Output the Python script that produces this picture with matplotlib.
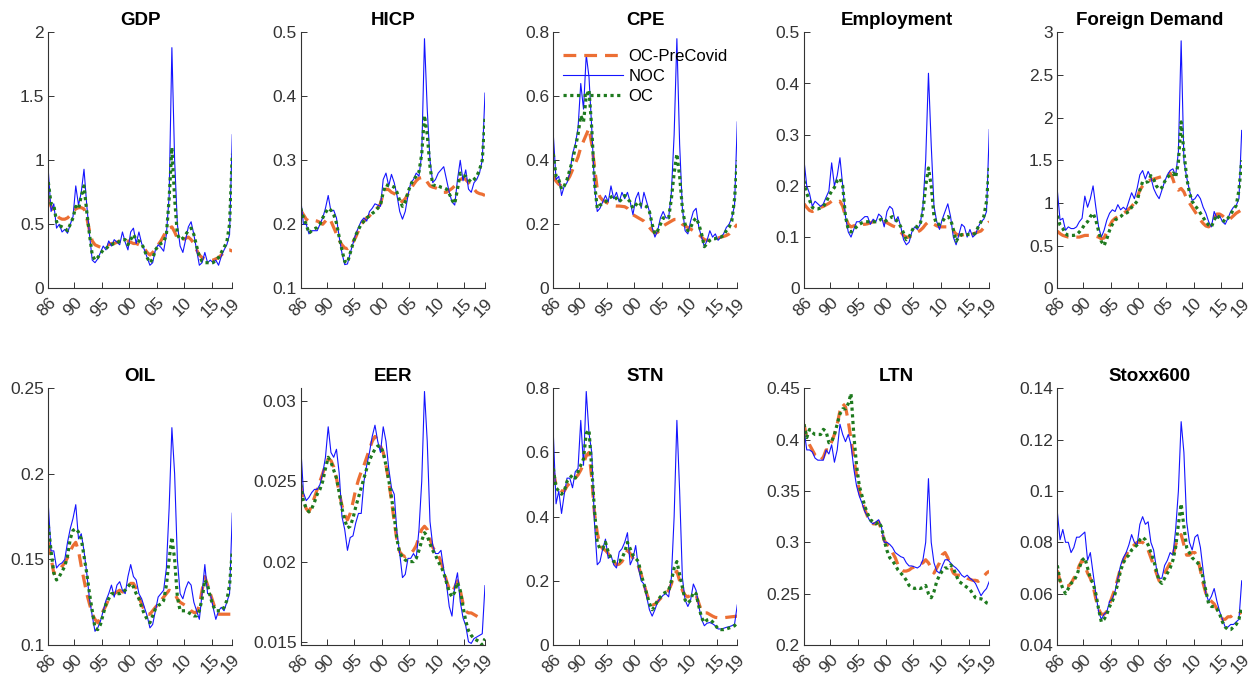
import numpy as np
import matplotlib
matplotlib.use('Agg')
import matplotlib.pyplot as plt
from matplotlib.ticker import FuncFormatter

plt.rcParams['font.family'] = ['Liberation Sans', 'DejaVu Sans']

# half-year grid, 1985Q2 .. 2018Q4
dates = np.arange(1985.25, 2019.0, 0.5)
tick_pos = [1985.25, 1990, 1995, 2000, 2005, 2010, 2015, 2018.75]
tick_lab = ['86', '90', '95', '00', '05', '10', '15', '19']

titles = ['GDP', 'HICP', 'CPE', 'Employment', 'Foreign Demand',
          'OIL', 'EER', 'STN', 'LTN', 'Stoxx600']

# ---- GDP
gdp_pre = [0.7, 0.64, 0.6, 0.57, 0.55, 0.54, 0.54, 0.55, 0.57, 0.6, 0.62, 0.63, 0.63, 0.62, 0.55, 0.45, 0.37,
           0.34, 0.33, 0.32, 0.33, 0.33, 0.34, 0.35, 0.35, 0.36, 0.37, 0.38, 0.38, 0.37, 0.36, 0.35, 0.35, 0.34,
           0.33, 0.31, 0.28, 0.26, 0.28, 0.31, 0.34, 0.37, 0.41, 0.45, 0.47, 0.48, 0.44, 0.39, 0.38, 0.38, 0.39,
           0.4, 0.38, 0.35, 0.3, 0.26, 0.24, 0.23, 0.22, 0.22, 0.22, 0.23, 0.24, 0.26, 0.28, 0.3, 0.3, 0.29]
gdp_noc = [0.92, 0.6, 0.66, 0.47, 0.5, 0.44, 0.46, 0.43, 0.5, 0.56, 0.8, 0.65, 0.75, 0.93, 0.65, 0.42, 0.22,
           0.2, 0.23, 0.28, 0.33, 0.3, 0.37, 0.33, 0.38, 0.36, 0.34, 0.44, 0.36, 0.3, 0.44, 0.47, 0.35, 0.44,
           0.35, 0.3, 0.24, 0.18, 0.2, 0.3, 0.34, 0.32, 0.29, 0.42, 0.72, 1.88, 1.0, 0.5, 0.33, 0.28, 0.38, 0.48,
           0.52, 0.42, 0.3, 0.18, 0.2, 0.28, 0.2, 0.22, 0.2, 0.22, 0.18, 0.25, 0.3, 0.34, 0.42, 1.2]
gdp_oc = [0.83, 0.66, 0.65, 0.52, 0.49, 0.48, 0.47, 0.45, 0.5, 0.55, 0.64, 0.62, 0.72, 0.8, 0.6, 0.42, 0.26,
          0.22, 0.24, 0.27, 0.3, 0.31, 0.33, 0.34, 0.35, 0.35, 0.37, 0.38, 0.38, 0.34, 0.38, 0.42, 0.38, 0.37,
          0.35, 0.3, 0.24, 0.2, 0.23, 0.3, 0.33, 0.35, 0.36, 0.42, 0.7, 1.1, 0.7, 0.42, 0.38, 0.39, 0.42, 0.45,
          0.47, 0.42, 0.33, 0.25, 0.21, 0.2, 0.2, 0.2, 0.2, 0.22, 0.24, 0.28, 0.32, 0.36, 0.5, 1.05]

# ---- HICP
hicp_pre = [0.222, 0.215, 0.208, 0.205, 0.205, 0.206, 0.205, 0.203, 0.2, 0.205, 0.21, 0.205, 0.195, 0.185,
            0.175, 0.168, 0.163, 0.162, 0.165, 0.172, 0.18, 0.19, 0.2, 0.205, 0.21, 0.213, 0.218, 0.222, 0.226,
            0.232, 0.248, 0.255, 0.254, 0.25, 0.248, 0.244, 0.238, 0.235, 0.24, 0.247, 0.255, 0.262, 0.268,
            0.272, 0.273, 0.273, 0.266, 0.26, 0.258, 0.257, 0.255, 0.253, 0.25, 0.25, 0.253, 0.256, 0.26, 0.265,
            0.27, 0.272, 0.27, 0.265, 0.26, 0.255, 0.25, 0.248, 0.247, 0.245]
hicp_noc = [0.24, 0.2, 0.2, 0.185, 0.19, 0.19, 0.19, 0.2, 0.21, 0.225, 0.245, 0.22, 0.222, 0.21, 0.18, 0.155,
            0.137, 0.138, 0.155, 0.17, 0.185, 0.195, 0.205, 0.21, 0.205, 0.22, 0.225, 0.232, 0.23, 0.228, 0.27,
            0.28, 0.26, 0.278, 0.265, 0.245, 0.22, 0.208, 0.22, 0.245, 0.265, 0.27, 0.28, 0.275, 0.31, 0.49,
            0.38, 0.3, 0.265, 0.27, 0.28, 0.285, 0.29, 0.27, 0.25, 0.235, 0.23, 0.27, 0.3, 0.268, 0.285,
            0.255, 0.25, 0.265, 0.27, 0.28, 0.3, 0.405]
hicp_oc = [0.225, 0.21, 0.2, 0.186, 0.19, 0.193, 0.195, 0.2, 0.21, 0.218, 0.225, 0.222, 0.215, 0.202, 0.18,
           0.16, 0.142, 0.14, 0.155, 0.17, 0.183, 0.192, 0.2, 0.205, 0.21, 0.213, 0.217, 0.22, 0.225, 0.23, 0.25,
           0.262, 0.26, 0.26, 0.258, 0.25, 0.237, 0.228, 0.235, 0.25, 0.262, 0.27, 0.275, 0.282, 0.31, 0.37,
           0.34, 0.29, 0.262, 0.26, 0.26, 0.258, 0.257, 0.255, 0.248, 0.238, 0.232, 0.255, 0.28, 0.276, 0.275,
           0.27, 0.266, 0.27, 0.275, 0.285, 0.3, 0.365]

# ---- CPE
cpe_pre = [0.35, 0.335, 0.325, 0.32, 0.325, 0.335, 0.35, 0.37, 0.39, 0.41, 0.44, 0.46, 0.48, 0.5, 0.45, 0.38,
           0.31, 0.285, 0.275, 0.27, 0.265, 0.26, 0.258, 0.257, 0.257, 0.256, 0.255, 0.25, 0.24, 0.23, 0.225,
           0.22, 0.215, 0.21, 0.2, 0.19, 0.18, 0.172, 0.175, 0.185, 0.195, 0.2, 0.205, 0.21, 0.215, 0.215, 0.21,
           0.2, 0.195, 0.19, 0.185, 0.18, 0.175, 0.168, 0.16, 0.152, 0.15, 0.15, 0.152, 0.155, 0.157, 0.16,
           0.162, 0.165, 0.17, 0.18, 0.19, 0.2]
cpe_noc = [0.48, 0.34, 0.35, 0.29, 0.32, 0.33, 0.36, 0.42, 0.45, 0.5, 0.64, 0.56, 0.73, 0.66, 0.5, 0.32, 0.24,
           0.25, 0.27, 0.29, 0.27, 0.32, 0.28, 0.3, 0.27, 0.3, 0.28, 0.3, 0.27, 0.23, 0.28, 0.3, 0.25, 0.3, 0.27,
           0.24, 0.19, 0.16, 0.18, 0.22, 0.24, 0.22, 0.22, 0.3, 0.48, 0.78, 0.45, 0.25, 0.18, 0.17, 0.21, 0.24,
           0.25, 0.19, 0.16, 0.13, 0.15, 0.18, 0.16, 0.17, 0.15, 0.16, 0.17, 0.19, 0.2, 0.22, 0.26, 0.52]
cpe_oc = [0.42, 0.35, 0.34, 0.31, 0.32, 0.34, 0.37, 0.4, 0.44, 0.48, 0.54, 0.52, 0.6, 0.62, 0.5, 0.33, 0.25,
          0.26, 0.265, 0.27, 0.28, 0.285, 0.29, 0.28, 0.27, 0.28, 0.29, 0.28, 0.27, 0.25, 0.26, 0.27, 0.26,
          0.26, 0.255, 0.24, 0.2, 0.17, 0.18, 0.2, 0.22, 0.22, 0.22, 0.28, 0.36, 0.42, 0.35, 0.25, 0.2, 0.18,
          0.19, 0.21, 0.22, 0.2, 0.17, 0.13, 0.14, 0.15, 0.155, 0.155, 0.16, 0.16, 0.165, 0.18, 0.19, 0.21,
          0.28, 0.4]

# ---- Employment
emp_pre = [0.165, 0.158, 0.152, 0.15, 0.153, 0.155, 0.158, 0.16, 0.163, 0.166, 0.17, 0.168, 0.168, 0.17,
           0.16, 0.14, 0.125, 0.12, 0.122, 0.124, 0.125, 0.125, 0.125, 0.126, 0.128, 0.13, 0.13, 0.13, 0.13,
           0.13, 0.128, 0.125, 0.122, 0.12, 0.115, 0.11, 0.103, 0.1, 0.1, 0.103, 0.107, 0.11, 0.113, 0.118,
           0.125, 0.13, 0.128, 0.125, 0.122, 0.12, 0.12, 0.12, 0.12, 0.118, 0.112, 0.106, 0.104, 0.104, 0.105,
           0.105, 0.105, 0.106, 0.108, 0.11, 0.112, 0.118, 0.125, 0.13]
emp_noc = [0.25, 0.2, 0.185, 0.16, 0.17, 0.165, 0.16, 0.165, 0.178, 0.19, 0.245, 0.2, 0.22, 0.255, 0.2, 0.14,
           0.11, 0.1, 0.115, 0.13, 0.13, 0.135, 0.14, 0.14, 0.125, 0.135, 0.13, 0.145, 0.14, 0.12, 0.15, 0.16,
           0.155, 0.13, 0.14, 0.12, 0.095, 0.085, 0.09, 0.11, 0.12, 0.115, 0.125, 0.16, 0.25, 0.42, 0.28, 0.16,
           0.13, 0.115, 0.135, 0.15, 0.165, 0.14, 0.1, 0.085, 0.105, 0.125, 0.12, 0.1, 0.115, 0.1, 0.105, 0.12,
           0.13, 0.135, 0.15, 0.31]
emp_oc = [0.21, 0.185, 0.172, 0.158, 0.155, 0.155, 0.157, 0.16, 0.168, 0.18, 0.19, 0.197, 0.21, 0.215, 0.2,
          0.14, 0.115, 0.11, 0.115, 0.12, 0.125, 0.128, 0.13, 0.13, 0.13, 0.13, 0.13, 0.132, 0.135, 0.13, 0.133,
          0.137, 0.14, 0.135, 0.13, 0.12, 0.108, 0.095, 0.1, 0.112, 0.122, 0.12, 0.125, 0.15, 0.2, 0.235, 0.2,
          0.14, 0.125, 0.125, 0.13, 0.138, 0.14, 0.135, 0.115, 0.092, 0.1, 0.105, 0.105, 0.105, 0.105, 0.105,
          0.108, 0.12, 0.13, 0.14, 0.17, 0.24]

# ---- Foreign Demand
fd_pre = [0.67, 0.64, 0.62, 0.61, 0.6, 0.6, 0.6, 0.6, 0.6, 0.61, 0.62, 0.62, 0.62, 0.62, 0.61, 0.6, 0.58, 0.59,
          0.66, 0.73, 0.79, 0.82, 0.84, 0.86, 0.88, 0.9, 0.93, 0.96, 1.0, 1.06, 1.15, 1.2, 1.24, 1.26, 1.27,
          1.28, 1.29, 1.3, 1.31, 1.32, 1.33, 1.35, 1.28, 1.18, 1.15, 1.17, 1.13, 1.05, 1.0, 0.95, 0.9, 0.85, 0.8,
          0.76, 0.73, 0.72, 0.75, 0.82, 0.87, 0.87, 0.85, 0.82, 0.8, 0.82, 0.85, 0.88, 0.9, 0.92]
fd_noc = [1.15, 0.8, 0.82, 0.68, 0.72, 0.7, 0.7, 0.72, 0.78, 0.82, 1.08, 0.95, 1.05, 1.2, 0.95, 0.72, 0.6, 0.68,
          0.8, 0.88, 0.92, 0.9, 0.98, 0.92, 0.95, 0.92, 1.02, 1.12, 1.05, 1.17, 1.33, 1.38, 1.28, 1.37, 1.3,
          1.17, 1.1, 1.05, 1.15, 1.25, 1.33, 1.38, 1.4, 1.32, 1.6, 2.9, 1.5, 1.3, 1.15, 1.03, 1.05, 1.1, 1.05,
          0.95, 0.88, 0.78, 0.72, 0.9, 0.82, 0.85, 0.78, 0.75, 0.82, 0.9, 0.95, 0.97, 1.05, 1.85]
fd_oc = [0.85, 0.74, 0.7, 0.64, 0.62, 0.62, 0.62, 0.63, 0.66, 0.7, 0.75, 0.78, 0.84, 0.88, 0.8, 0.67, 0.55, 0.5,
         0.58, 0.68, 0.75, 0.8, 0.82, 0.84, 0.87, 0.88, 0.9, 0.95, 0.98, 1.02, 1.15, 1.25, 1.24, 1.25, 1.32,
         1.28, 1.2, 1.16, 1.18, 1.25, 1.3, 1.33, 1.35, 1.3, 1.48, 1.95, 1.6, 1.3, 1.12, 1.02, 0.97, 0.93, 0.88,
         0.83, 0.78, 0.74, 0.72, 0.8, 0.86, 0.82, 0.8, 0.78, 0.82, 0.87, 0.92, 0.97, 1.15, 1.5]

# ---- OIL
oil_pre = [0.16, 0.151, 0.142, 0.142, 0.144, 0.146, 0.148, 0.151, 0.155, 0.158, 0.16, 0.155, 0.146, 0.138,
           0.13, 0.124, 0.118, 0.115, 0.113, 0.116, 0.12, 0.123, 0.127, 0.129, 0.13, 0.131, 0.132, 0.131, 0.131,
           0.134, 0.136, 0.136, 0.133, 0.128, 0.124, 0.12, 0.118, 0.118, 0.12, 0.122, 0.124, 0.126, 0.128, 0.13,
           0.132, 0.131, 0.13, 0.127, 0.125, 0.124, 0.123, 0.122, 0.12, 0.119, 0.119, 0.123, 0.132, 0.14, 0.135,
           0.13, 0.125, 0.12, 0.118, 0.118, 0.118, 0.118, 0.118, 0.118]
oil_noc = [0.182, 0.155, 0.155, 0.145, 0.147, 0.148, 0.15, 0.16, 0.168, 0.174, 0.182, 0.162, 0.165, 0.155,
           0.142, 0.127, 0.117, 0.108, 0.11, 0.114, 0.12, 0.126, 0.13, 0.135, 0.128, 0.135, 0.137, 0.132, 0.13,
           0.14, 0.147, 0.14, 0.138, 0.13, 0.127, 0.122, 0.117, 0.11, 0.112, 0.12, 0.128, 0.13, 0.132, 0.145,
           0.18, 0.227, 0.2, 0.15, 0.13, 0.127, 0.133, 0.137, 0.135, 0.125, 0.12, 0.115, 0.13, 0.147, 0.13, 0.13,
           0.122, 0.115, 0.12, 0.122, 0.12, 0.125, 0.13, 0.177]
oil_oc = [0.17, 0.155, 0.142, 0.138, 0.14, 0.143, 0.146, 0.152, 0.162, 0.167, 0.168, 0.166, 0.162, 0.152,
          0.142, 0.13, 0.12, 0.11, 0.109, 0.112, 0.118, 0.124, 0.127, 0.13, 0.13, 0.13, 0.13, 0.131, 0.132,
          0.134, 0.136, 0.134, 0.13, 0.127, 0.122, 0.118, 0.115, 0.113, 0.117, 0.121, 0.123, 0.124, 0.126,
          0.135, 0.15, 0.163, 0.15, 0.128, 0.12, 0.12, 0.12, 0.119, 0.118, 0.117, 0.117, 0.12, 0.127, 0.138,
          0.135, 0.128, 0.123, 0.12, 0.12, 0.12, 0.122, 0.126, 0.135, 0.155]

# ---- EER
eer_pre = [0.0248, 0.0238, 0.0233, 0.0231, 0.0235, 0.024, 0.0245, 0.025, 0.0255, 0.026, 0.0264, 0.0263,
           0.0259, 0.0252, 0.0243, 0.0235, 0.0229, 0.0226, 0.023, 0.0237, 0.0245, 0.0251, 0.0256, 0.026, 0.0265,
           0.027, 0.0275, 0.0278, 0.0276, 0.0272, 0.0268, 0.026, 0.025, 0.0238, 0.0225, 0.0213, 0.0206, 0.0204,
           0.0203, 0.0204, 0.0205, 0.0207, 0.021, 0.0215, 0.022, 0.0222, 0.022, 0.0214, 0.0209, 0.0206, 0.0204,
           0.02, 0.0194, 0.0188, 0.0183, 0.0181, 0.0184, 0.0188, 0.0182, 0.0174, 0.0169, 0.0168, 0.0168, 0.0167,
           0.0166, 0.0165, 0.0165, 0.0165]
eer_noc = [0.0272, 0.0243, 0.0238, 0.024, 0.0243, 0.0245, 0.0245, 0.0248, 0.0255, 0.0265, 0.0284, 0.0268,
           0.0265, 0.027, 0.0255, 0.0228, 0.022, 0.0207, 0.0215, 0.0216, 0.0224, 0.023, 0.023, 0.025, 0.026,
           0.0268, 0.0278, 0.0285, 0.0275, 0.0268, 0.0284, 0.0275, 0.0258, 0.0246, 0.0242, 0.0218, 0.0205,
           0.019, 0.0192, 0.0202, 0.0202, 0.0205, 0.0202, 0.022, 0.025, 0.0306, 0.0275, 0.0225, 0.021, 0.0205,
           0.0205, 0.0207, 0.0195, 0.0186, 0.0172, 0.0166, 0.0185, 0.0193, 0.0175, 0.0165, 0.016, 0.015, 0.0149,
           0.0152, 0.0153, 0.0154, 0.0155, 0.0185]
eer_oc = [0.0248, 0.0238, 0.0233, 0.0231, 0.0233, 0.0237, 0.0242, 0.0245, 0.025, 0.0258, 0.0265, 0.0262,
          0.0257, 0.0252, 0.0243, 0.0233, 0.0226, 0.0221, 0.0222, 0.0227, 0.0234, 0.024, 0.0246, 0.0252, 0.0258,
          0.0263, 0.0267, 0.027, 0.0272, 0.0272, 0.0268, 0.026, 0.0251, 0.024, 0.0228, 0.0214, 0.0205, 0.0203,
          0.0201, 0.02, 0.02, 0.02, 0.0202, 0.0207, 0.0213, 0.0218, 0.0216, 0.0211, 0.0207, 0.0204, 0.02,
          0.0197, 0.0193, 0.0187, 0.0181, 0.0178, 0.0181, 0.0187, 0.0182, 0.0172, 0.0163, 0.0157, 0.0154,
          0.0152, 0.0151, 0.015, 0.0148, 0.0152]

# ---- STN
stn_pre = [0.54, 0.5, 0.485, 0.48, 0.48, 0.495, 0.505, 0.51, 0.52, 0.53, 0.545, 0.565, 0.59, 0.6, 0.52, 0.41,
           0.35, 0.31, 0.3, 0.295, 0.285, 0.27, 0.26, 0.25, 0.252, 0.26, 0.275, 0.295, 0.285, 0.27, 0.26, 0.245,
           0.22, 0.19, 0.16, 0.135, 0.125, 0.127, 0.135, 0.145, 0.152, 0.16, 0.17, 0.19, 0.22, 0.23, 0.2, 0.17,
           0.155, 0.15, 0.155, 0.16, 0.155, 0.13, 0.105, 0.1, 0.1, 0.095, 0.09, 0.086, 0.085, 0.085, 0.085,
           0.086, 0.087, 0.088, 0.089, 0.09]
stn_noc = [0.66, 0.44, 0.48, 0.41, 0.47, 0.52, 0.52, 0.49, 0.54, 0.55, 0.7, 0.56, 0.79, 0.66, 0.6, 0.38, 0.25,
           0.26, 0.3, 0.33, 0.27, 0.28, 0.25, 0.24, 0.29, 0.3, 0.32, 0.35, 0.25, 0.27, 0.31, 0.24, 0.2, 0.19,
           0.15, 0.11, 0.09, 0.11, 0.135, 0.145, 0.155, 0.16, 0.15, 0.21, 0.4, 0.7, 0.48, 0.21, 0.14, 0.12, 0.14,
           0.19, 0.17, 0.12, 0.08, 0.06, 0.068, 0.07, 0.066, 0.06, 0.05, 0.05, 0.052, 0.055, 0.057, 0.06, 0.065,
           0.125]
stn_oc = [0.55, 0.49, 0.48, 0.47, 0.48, 0.51, 0.52, 0.53, 0.52, 0.54, 0.56, 0.58, 0.66, 0.67, 0.55, 0.42, 0.32,
          0.3, 0.3, 0.32, 0.29, 0.27, 0.26, 0.26, 0.26, 0.27, 0.29, 0.32, 0.3, 0.28, 0.27, 0.26, 0.22, 0.19,
          0.16, 0.13, 0.11, 0.12, 0.14, 0.15, 0.16, 0.165, 0.17, 0.2, 0.24, 0.26, 0.22, 0.18, 0.14, 0.13, 0.14,
          0.165, 0.16, 0.12, 0.085, 0.07, 0.078, 0.08, 0.072, 0.062, 0.05, 0.048, 0.048, 0.05, 0.053, 0.056,
          0.06, 0.07]

# ---- LTN
ltn_pre = [0.415, 0.402, 0.395, 0.39, 0.385, 0.383, 0.38, 0.383, 0.39, 0.39, 0.398, 0.405, 0.415, 0.428,
           0.435, 0.432, 0.418, 0.4, 0.383, 0.365, 0.35, 0.34, 0.332, 0.325, 0.32, 0.318, 0.318, 0.32, 0.312,
           0.302, 0.298, 0.296, 0.29, 0.285, 0.278, 0.274, 0.272, 0.272, 0.273, 0.275, 0.276, 0.278, 0.279, 0.28,
           0.283, 0.28, 0.275, 0.27, 0.275, 0.28, 0.288, 0.29, 0.285, 0.276, 0.27, 0.268, 0.268, 0.268, 0.267,
           0.265, 0.264, 0.263, 0.263, 0.262, 0.264, 0.267, 0.27, 0.272]
ltn_noc = [0.41, 0.39, 0.39, 0.388, 0.382, 0.38, 0.38, 0.38, 0.39, 0.386, 0.395, 0.378, 0.39, 0.415, 0.405,
           0.398, 0.405, 0.395, 0.372, 0.355, 0.345, 0.338, 0.33, 0.325, 0.32, 0.318, 0.32, 0.322, 0.315, 0.3,
           0.3, 0.298, 0.295, 0.29, 0.288, 0.286, 0.285, 0.28, 0.277, 0.277, 0.276, 0.275, 0.277, 0.283, 0.3,
           0.362, 0.3, 0.28, 0.272, 0.27, 0.277, 0.283, 0.283, 0.28, 0.277, 0.275, 0.272, 0.268, 0.266, 0.268,
           0.265, 0.263, 0.26, 0.254, 0.248, 0.252, 0.255, 0.262]
ltn_oc = [0.415, 0.402, 0.41, 0.407, 0.405, 0.405, 0.405, 0.41, 0.408, 0.397, 0.398, 0.405, 0.415, 0.425, 0.43,
          0.43, 0.435, 0.445, 0.405, 0.375, 0.355, 0.345, 0.335, 0.328, 0.322, 0.32, 0.318, 0.32, 0.315, 0.302,
          0.292, 0.285, 0.282, 0.278, 0.273, 0.27, 0.267, 0.263, 0.258, 0.256, 0.255, 0.256, 0.255, 0.256,
          0.258, 0.25, 0.246, 0.252, 0.262, 0.268, 0.272, 0.275, 0.275, 0.278, 0.275, 0.268, 0.262, 0.26,
          0.258, 0.256, 0.254, 0.25, 0.246, 0.245, 0.245, 0.244, 0.241, 0.24]

# ---- Stoxx600
stx_pre = [0.069, 0.065, 0.063, 0.063, 0.063, 0.064, 0.066, 0.068, 0.071, 0.073, 0.071, 0.068, 0.066, 0.063,
           0.058, 0.054, 0.052, 0.052, 0.053, 0.056, 0.059, 0.062, 0.066, 0.07, 0.073, 0.075, 0.077, 0.078,
           0.079, 0.08, 0.08, 0.08, 0.079, 0.077, 0.074, 0.071, 0.068, 0.065, 0.066, 0.068, 0.07, 0.072, 0.075,
           0.079, 0.082, 0.083, 0.079, 0.075, 0.075, 0.076, 0.076, 0.074, 0.069, 0.064, 0.06, 0.058, 0.057,
           0.056, 0.054, 0.052, 0.05, 0.05, 0.051, 0.051, 0.052, 0.052, 0.052, 0.053]
stx_noc = [0.092, 0.081, 0.085, 0.08, 0.08, 0.076, 0.078, 0.082, 0.082, 0.083, 0.084, 0.073, 0.076, 0.068,
           0.06, 0.053, 0.05, 0.052, 0.053, 0.057, 0.058, 0.061, 0.066, 0.071, 0.074, 0.076, 0.079, 0.083, 0.08,
           0.079, 0.087, 0.09, 0.087, 0.088, 0.08, 0.077, 0.07, 0.066, 0.066, 0.071, 0.073, 0.076, 0.075,
           0.085, 0.1, 0.127, 0.115, 0.088, 0.08, 0.077, 0.082, 0.083, 0.078, 0.069, 0.06, 0.057, 0.059, 0.062,
           0.057, 0.053, 0.05, 0.047, 0.047, 0.048, 0.048, 0.049, 0.05, 0.065]
stx_oc = [0.071, 0.065, 0.062, 0.06, 0.062, 0.064, 0.065, 0.067, 0.07, 0.073, 0.074, 0.07, 0.066, 0.064, 0.06,
          0.054, 0.049, 0.05, 0.052, 0.055, 0.057, 0.06, 0.064, 0.069, 0.072, 0.074, 0.075, 0.077, 0.078,
          0.079, 0.081, 0.082, 0.081, 0.079, 0.076, 0.073, 0.069, 0.065, 0.064, 0.066, 0.068, 0.07, 0.073,
          0.078, 0.087, 0.095, 0.086, 0.078, 0.076, 0.074, 0.073, 0.072, 0.07, 0.066, 0.061, 0.056, 0.055,
          0.055, 0.054, 0.052, 0.049, 0.047, 0.046, 0.046, 0.047, 0.048, 0.05, 0.055]

series = [(gdp_pre, gdp_noc, gdp_oc), (hicp_pre, hicp_noc, hicp_oc), (cpe_pre, cpe_noc, cpe_oc),
          (emp_pre, emp_noc, emp_oc), (fd_pre, fd_noc, fd_oc), (oil_pre, oil_noc, oil_oc),
          (eer_pre, eer_noc, eer_oc), (stn_pre, stn_noc, stn_oc), (ltn_pre, ltn_noc, ltn_oc),
          (stx_pre, stx_noc, stx_oc)]

ylims = [(0, 2), (0.1, 0.5), (0, 0.8), (0, 0.5), (0, 3),
         (0.1, 0.25), (0.0148, 0.0308), (0, 0.8), (0.2, 0.45), (0.04, 0.14)]
yticks = [[0, 0.5, 1, 1.5, 2], [0.1, 0.2, 0.3, 0.4, 0.5], [0, 0.2, 0.4, 0.6, 0.8],
          [0, 0.1, 0.2, 0.3, 0.4, 0.5], [0, 0.5, 1, 1.5, 2, 2.5, 3],
          [0.1, 0.15, 0.2, 0.25], [0.015, 0.02, 0.025, 0.03], [0, 0.2, 0.4, 0.6, 0.8],
          [0.2, 0.25, 0.3, 0.35, 0.4, 0.45], [0.04, 0.06, 0.08, 0.1, 0.12, 0.14]]

c_pre = '#EC6F34'
c_noc = '#1414FF'
c_oc = '#1E7A1E'
axcol = '#333333'

W, H = 1258, 675
fig = plt.figure(figsize=(W / 100, H / 100), dpi=100)

lefts = [48.3, 300.7, 553.3, 804, 1057.3]
rights = [232.3, 485, 737.3, 989.3, 1241.7]
row_box = [(32.3, 288.3), (388.3, 645)]

for i, title in enumerate(titles):
    r, c = divmod(i, 5)
    top, bot = row_box[r]
    ax = fig.add_axes([lefts[c] / W, 1 - bot / H, (rights[c] - lefts[c]) / W, (bot - top) / H])
    pre, noc, oc = series[i]
    ax.plot(dates, pre, color=c_pre, lw=2.3, dashes=(4, 2.5), label='OC-PreCovid')
    ax.plot(dates, noc, color=c_noc, lw=0.8, label='NOC')
    ax.plot(dates, oc, color=c_oc, lw=2.3, dashes=(1, 1.1), label='OC')

    ax.set_xlim(1985.25, 2018.75)
    ax.set_ylim(*ylims[i])
    ax.set_yticks(yticks[i])
    ax.yaxis.set_major_formatter(FuncFormatter(lambda v, p: f'{v:g}'))
    ax.set_xticks(tick_pos)
    ax.set_xticklabels(tick_lab, rotation=45, ha='right', rotation_mode='anchor')
    ax.tick_params(direction='in', length=4, width=0.7, colors=axcol, labelsize=12.5, pad=3)
    ax.tick_params(axis='x', pad=5)
    for s in ['top', 'right']:
        ax.spines[s].set_visible(False)
    for s in ['left', 'bottom']:
        ax.spines[s].set_color(axcol)
        ax.spines[s].set_linewidth(0.8)
    ax.set_title(title, fontsize=13.5, fontweight='bold', pad=5)

    if title == 'CPE':
        ax.legend(loc='upper left', bbox_to_anchor=(0.0, 0.975), frameon=False, fontsize=12,
                  handlelength=3.6, handletextpad=0.3, labelspacing=0.3, borderaxespad=0.2)

fig.savefig('out.png', dpi=100)
